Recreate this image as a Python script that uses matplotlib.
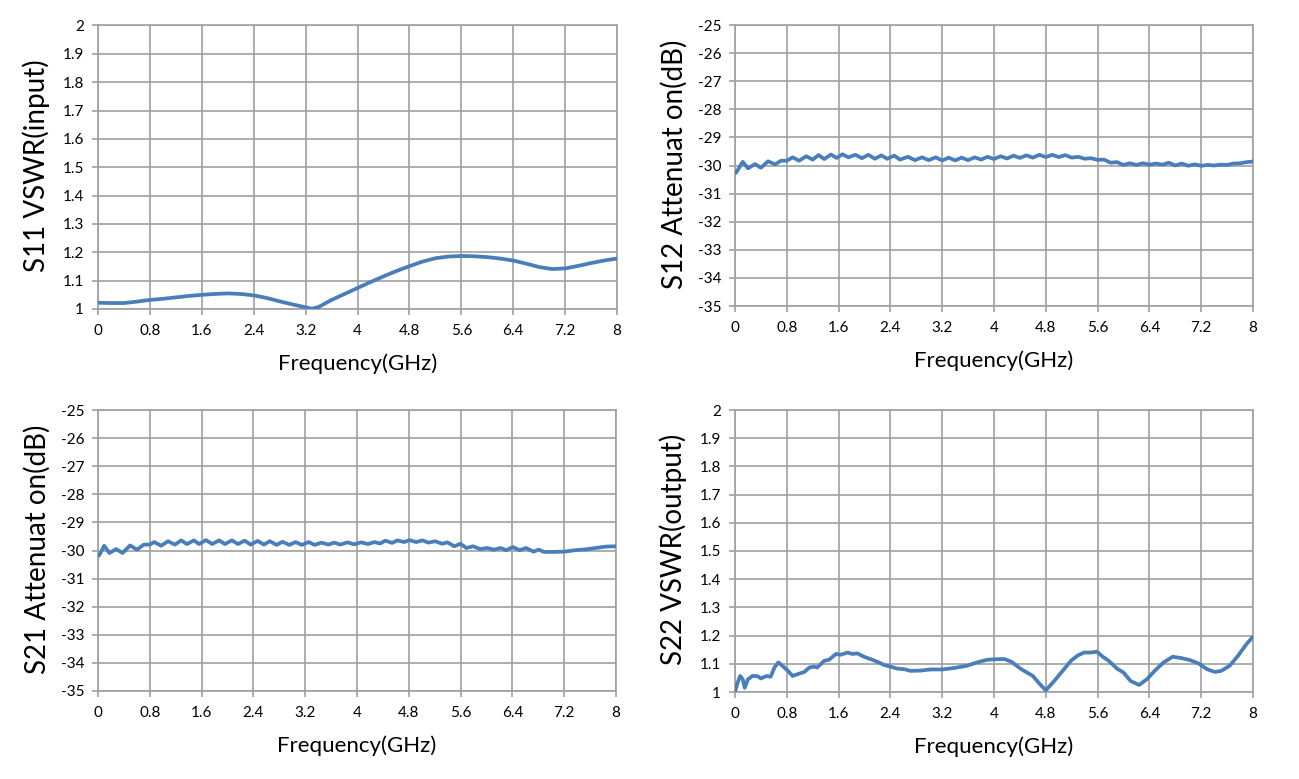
import matplotlib
matplotlib.use("Agg")
import matplotlib.pyplot as plt
import numpy as np

plt.rcParams['font.family'] = ['Lato', 'DejaVu Sans']

# ---------------- data ----------------
freq_ticks = [0, 0.8, 1.6, 2.4, 3.2, 4, 4.8, 5.6, 6.4, 7.2, 8]
freq_tick_labels = ["0", "0.8", "1.6", "2.4", "3.2", "4", "4.8", "5.6", "6.4", "7.2", "8"]
vswr_ticks = [1, 1.1, 1.2, 1.3, 1.4, 1.5, 1.6, 1.7, 1.8, 1.9, 2]
vswr_tick_labels = ["1", "1.1", "1.2", "1.3", "1.4", "1.5", "1.6", "1.7", "1.8", "1.9", "2"]
att_ticks = [-35, -34, -33, -32, -31, -30, -29, -28, -27, -26, -25]
att_tick_labels = [str(v) for v in att_ticks]

s11_f = [0, 0.2, 0.4, 0.6, 0.8, 1.0, 1.2, 1.4, 1.6, 1.8, 2.0, 2.2, 2.4, 2.6, 2.8, 3.0,
         3.2, 3.3, 3.4, 3.6, 3.8, 4.0, 4.2, 4.4, 4.6, 4.8, 5.0, 5.2, 5.4, 5.6, 5.8,
         6.0, 6.2, 6.4, 6.6, 6.8, 7.0, 7.2, 7.4, 7.6, 7.8, 8.0]
s11_v = [1.022, 1.021, 1.021, 1.026, 1.032, 1.036, 1.041, 1.046, 1.050, 1.053, 1.055, 1.053,
         1.048, 1.039, 1.027, 1.016, 1.006, 1.001, 1.007, 1.032, 1.053, 1.074, 1.095,
         1.115, 1.134, 1.151, 1.167, 1.179, 1.185, 1.187, 1.186, 1.183, 1.178, 1.171,
         1.160, 1.148, 1.141, 1.143, 1.152, 1.162, 1.171, 1.178]

s12_f = [0.016, 0.12, 0.2, 0.31, 0.40, 0.51, 0.62, 0.71, 0.8, 0.89, 0.99, 1.1, 1.2, 1.29,
         1.38, 1.48, 1.57, 1.66, 1.75, 1.86, 1.96, 2.06, 2.16, 2.26, 2.35, 2.46, 2.55,
         2.67, 2.78, 2.89, 2.99, 3.1, 3.2, 3.3, 3.4, 3.5, 3.6, 3.7, 3.8, 3.9, 4.0, 4.1,
         4.2, 4.3, 4.4, 4.5, 4.6, 4.7, 4.8, 4.9, 5.0, 5.1, 5.2, 5.3, 5.4, 5.5, 5.6, 5.7,
         5.8, 5.9, 6.0, 6.1, 6.2, 6.3, 6.4, 6.5, 6.6, 6.7, 6.8, 6.9, 7.0, 7.1, 7.2, 7.3,
         7.4, 7.5, 7.6, 7.7, 7.8, 7.9, 8.0]
s12_v = [-30.26, -29.87, -30.10, -29.95, -30.08, -29.85, -29.96, -29.83, -29.83, -29.71,
         -29.83, -29.67, -29.79, -29.63, -29.77, -29.61, -29.73, -29.60, -29.71, -29.62,
         -29.74, -29.62, -29.76, -29.64, -29.76, -29.65, -29.79, -29.69, -29.81, -29.71,
         -29.81, -29.71, -29.82, -29.72, -29.82, -29.72, -29.81, -29.71, -29.79, -29.69,
         -29.77, -29.67, -29.75, -29.65, -29.73, -29.64, -29.72, -29.62, -29.70, -29.62,
         -29.70, -29.63, -29.72, -29.69, -29.76, -29.74, -29.80, -29.79, -29.90, -29.88,
         -29.98, -29.92, -29.98, -29.92, -29.97, -29.93, -29.97, -29.90, -30.00, -29.93,
         -30.01, -29.96, -30.01, -29.98, -30.00, -29.97, -29.98, -29.93, -29.92, -29.88,
         -29.86]

s21_f = [0.016, 0.096, 0.176, 0.282, 0.378, 0.495, 0.602, 0.708, 0.799, 0.868, 0.975,
         1.081, 1.188, 1.284, 1.374, 1.481, 1.561, 1.667, 1.763, 1.870, 1.960, 2.067,
         2.162, 2.264, 2.359, 2.466, 2.562, 2.652, 2.759, 2.849, 2.956, 3.052, 3.148,
         3.254, 3.345, 3.451, 3.558, 3.648, 3.744, 3.851, 3.957, 4.064, 4.170, 4.266,
         4.357, 4.437, 4.543, 4.623, 4.730, 4.809, 4.916, 5.012, 5.102, 5.209, 5.315,
         5.395, 5.502, 5.598, 5.688, 5.795, 5.901, 6.008, 6.114, 6.221, 6.301, 6.407,
         6.514, 6.610, 6.727, 6.807, 6.887, 7.047, 7.207, 7.366, 7.526, 7.686, 7.846, 8.0]
s21_v = [-30.18, -29.83, -30.09, -29.95, -30.09, -29.82, -29.97, -29.79, -29.79, -29.70,
         -29.83, -29.67, -29.79, -29.64, -29.77, -29.64, -29.77, -29.63, -29.77, -29.64,
         -29.77, -29.64, -29.77, -29.65, -29.79, -29.66, -29.79, -29.67, -29.80, -29.69,
         -29.80, -29.70, -29.80, -29.70, -29.80, -29.72, -29.79, -29.72, -29.79, -29.71,
         -29.78, -29.71, -29.77, -29.70, -29.75, -29.65, -29.73, -29.64, -29.70, -29.63,
         -29.70, -29.64, -29.72, -29.67, -29.76, -29.71, -29.85, -29.76, -29.91, -29.85,
         -29.95, -29.91, -29.97, -29.91, -29.99, -29.88, -29.99, -29.91, -30.04, -29.97,
         -30.05, -30.05, -30.04, -29.99, -29.96, -29.91, -29.86, -29.85]

s22_f = [0, 0.04, 0.08, 0.12, 0.15, 0.2, 0.27, 0.35, 0.4, 0.49, 0.55, 0.61, 0.67, 0.73,
         0.81, 0.89, 0.99, 1.07, 1.15, 1.22, 1.27, 1.38, 1.45, 1.56, 1.63, 1.74, 1.81,
         1.89, 1.99, 2.09, 2.2, 2.3, 2.4, 2.5, 2.61, 2.71, 2.87, 3.02, 3.2, 3.38, 3.58,
         3.74, 3.89, 4.0, 4.16, 4.27, 4.42, 4.6, 4.7, 4.8, 4.93, 5.06, 5.19, 5.29, 5.39,
         5.5, 5.59, 5.68, 5.77, 5.9, 6.0, 6.11, 6.24, 6.36, 6.49, 6.62, 6.76, 6.9, 7.03,
         7.16, 7.29, 7.41, 7.51, 7.64, 7.77, 7.9, 8.0]
s22_v = [1.000, 1.033, 1.057, 1.045, 1.015, 1.045, 1.057, 1.056, 1.048, 1.057, 1.054,
         1.087, 1.105, 1.093, 1.077, 1.057, 1.065, 1.071, 1.087, 1.090, 1.087, 1.111,
         1.114, 1.135, 1.132, 1.140, 1.135, 1.137, 1.125, 1.117, 1.107, 1.096, 1.090,
         1.083, 1.081, 1.075, 1.076, 1.080, 1.080, 1.085, 1.093, 1.105, 1.114, 1.116,
         1.117, 1.107, 1.081, 1.057, 1.030, 1.006, 1.039, 1.075, 1.111, 1.129, 1.140,
         1.140, 1.143, 1.125, 1.111, 1.083, 1.069, 1.039, 1.025, 1.045, 1.077, 1.105,
         1.125, 1.120, 1.113, 1.101, 1.081, 1.071, 1.075, 1.093, 1.129, 1.170, 1.196]

# ---------------- figure ----------------
W, H = 1299, 779
fig = plt.figure(figsize=(W / 100, H / 100), dpi=100)

LINE = '#4A7EBB'
GRID = '#A0A0A0'

def px_axes(x0, x1, ytop, ybot):
    return fig.add_axes([x0 / W, (H - ybot) / H, (x1 - x0) / W, (ybot - ytop) / H])

panels = [
    (px_axes(98, 617, 25.5, 309), s11_f, s11_v, (1, 2), vswr_ticks, vswr_tick_labels, "S11 VSWR(input)"),
    (px_axes(735, 1253, 25, 306), s12_f, s12_v, (-35, -25), att_ticks, att_tick_labels, "S12 Attenuat on(dB)"),
    (px_axes(98, 616, 410, 691), s21_f, s21_v, (-35, -25), att_ticks, att_tick_labels, "S21 Attenuat on(dB)"),
    (px_axes(735, 1253, 410, 692), s22_f, s22_v, (1, 2), vswr_ticks, vswr_tick_labels, "S22 VSWR(output)"),
]

for ax, f, v, ylim, yt, ytl, ylab in panels:
    ax.plot(f, v, color=LINE, lw=2.7, solid_joinstyle='round', solid_capstyle='round', zorder=3)
    ax.set_xlim(0, 8)
    ax.set_ylim(*ylim)
    ax.set_xticks(freq_ticks)
    ax.set_xticklabels(freq_tick_labels)
    ax.set_yticks(yt)
    ax.set_yticklabels(ytl)
    ax.grid(True, color=GRID, lw=1.2, zorder=1)
    for s in ax.spines.values():
        s.set_color(GRID)
        s.set_linewidth(1.2)
    ax.tick_params(axis='both', direction='out', length=4, width=1.2, color=GRID,
                   labelsize=11, labelcolor='black')
    ax.tick_params(axis='y', pad=6)
    ax.tick_params(axis='x', pad=7)
    ax.set_xlabel("Frequency(GHz)", fontsize=16)
    ax.set_ylabel(ylab, fontsize=20)
    ax.xaxis.set_label_coords(0.5, -0.158)
    ax.yaxis.set_label_coords(-0.092, 0.505)

fig.savefig("out.png", dpi=100, facecolor='white')
